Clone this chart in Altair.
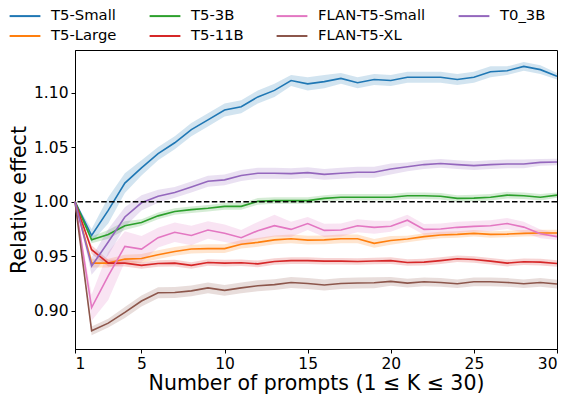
import altair as alt
import pandas as pd

K = list(range(1, 31))

models = ["T5-Small", "T5-Large", "T5-3B", "T5-11B", "FLAN-T5-Small", "FLAN-T5-XL", "T0_3B"]
legend_order = ["T5-Small", "T5-3B", "FLAN-T5-Small", "T0_3B", "T5-Large", "T5-11B", "FLAN-T5-XL"]
colors = {"T5-Small": "#1f77b4", "T5-Large": "#ff7f0e", "T5-3B": "#2ca02c", "T5-11B": "#d62728",
          "FLAN-T5-Small": "#e377c2", "FLAN-T5-XL": "#8c564b", "T0_3B": "#9467bd"}

t5_small = [1.000, 0.969, 0.992, 1.017, 1.031, 1.044, 1.054, 1.066, 1.075, 1.084, 1.087, 1.096, 1.102, 1.111, 1.108,
            1.110, 1.113, 1.109, 1.112, 1.111, 1.114, 1.114, 1.114, 1.112, 1.114, 1.119, 1.120, 1.124, 1.121, 1.115]
t5_large = [1.000, 0.9437, 0.9437, 0.9474, 0.948, 0.9514, 0.9544, 0.9566, 0.957, 0.957, 0.961, 0.9627, 0.965, 0.966, 0.9648,
            0.965, 0.966, 0.966, 0.9618, 0.9645, 0.9658, 0.968, 0.9694, 0.970, 0.971, 0.970, 0.9703, 0.971, 0.9713, 0.9713]
t5_3b = [1.000, 0.965, 0.970, 0.978, 0.981, 0.987, 0.991, 0.9927, 0.994, 0.9957, 0.9957, 1.0003, 1.001, 1.001, 1.001,
         1.003, 1.004, 1.004, 1.004, 1.004, 1.0055, 1.0055, 1.005, 1.003, 1.0033, 1.004, 1.006, 1.0055, 1.004, 1.006]
t5_11b = [1.000, 0.956, 0.9437, 0.9437, 0.9416, 0.9434, 0.9437, 0.9416, 0.9443, 0.9437, 0.944, 0.943, 0.9452, 0.946, 0.946,
          0.9455, 0.9455, 0.9452, 0.9457, 0.946, 0.9443, 0.9446, 0.946, 0.9477, 0.947, 0.9455, 0.9437, 0.945, 0.9446, 0.9434]
flan_small = [1.000, 0.903, 0.932, 0.959, 0.9566, 0.967, 0.972, 0.969, 0.974, 0.971, 0.967, 0.9734, 0.978, 0.9746, 0.980,
              0.9737, 0.974, 0.978, 0.9765, 0.9775, 0.983, 0.9746, 0.975, 0.9765, 0.9774, 0.978, 0.980, 0.9767, 0.9706, 0.968]
flan_xl = [1.000, 0.8817, 0.8887, 0.8985, 0.909, 0.9165, 0.9168, 0.9183, 0.921, 0.9187, 0.921, 0.923, 0.924, 0.926, 0.925,
           0.9236, 0.925, 0.9255, 0.9257, 0.927, 0.9254, 0.9266, 0.926, 0.9248, 0.9266, 0.9266, 0.926, 0.9248, 0.926, 0.9245]
t0_3b = [1.000, 0.941, 0.963, 0.986, 0.999, 1.005, 1.0085, 1.0135, 1.0187, 1.020, 1.024, 1.026, 1.026, 1.0257, 1.0266,
         1.025, 1.026, 1.027, 1.027, 1.030, 1.032, 1.034, 1.035, 1.034, 1.033, 1.034, 1.0346, 1.0346, 1.036, 1.0364]

# half-widths of the shaded bands
err_t5_small = [0, 0.006, 0.012, 0.009, 0.007, 0.006, 0.006, 0.006, 0.006, 0.006, 0.006, 0.006, 0.006, 0.005, 0.006,
                0.006, 0.005, 0.005, 0.005, 0.005, 0.005, 0.005, 0.005, 0.005, 0.005, 0.005, 0.004, 0.004, 0.004, 0.003]
err_t5_large = [0, 0.004, 0.004, 0.004, 0.004, 0.004, 0.004, 0.004, 0.004, 0.004, 0.004, 0.004, 0.004, 0.004, 0.004,
                0.004, 0.004, 0.004, 0.004, 0.004, 0.003, 0.003, 0.003, 0.003, 0.003, 0.003, 0.003, 0.003, 0.003, 0.003]
err_t5_3b = [0, 0.003, 0.004, 0.004, 0.003, 0.003, 0.003, 0.003, 0.003, 0.003, 0.003, 0.003, 0.003, 0.003, 0.003,
             0.003, 0.003, 0.003, 0.003, 0.003, 0.003, 0.003, 0.003, 0.003, 0.003, 0.003, 0.003, 0.003, 0.003, 0.0025]
err_t5_11b = [0, 0.004, 0.003, 0.003, 0.003, 0.003, 0.003, 0.003, 0.003, 0.003, 0.003, 0.003, 0.003, 0.003, 0.003,
              0.003, 0.003, 0.003, 0.003, 0.003, 0.003, 0.003, 0.003, 0.003, 0.003, 0.003, 0.003, 0.003, 0.003, 0.003]
err_flan_small = [0, 0.012, 0.022, 0.014, 0.012, 0.009, 0.009, 0.009, 0.008, 0.008, 0.007, 0.008, 0.010, 0.007, 0.006,
                  0.006, 0.006, 0.006, 0.006, 0.005, 0.005, 0.005, 0.005, 0.005, 0.005, 0.005, 0.005, 0.005, 0.004, 0.003]
err_flan_xl = [0, 0.004, 0.004, 0.005, 0.005, 0.005, 0.005, 0.005, 0.005, 0.005, 0.005, 0.005, 0.005, 0.005, 0.005,
               0.005, 0.005, 0.005, 0.005, 0.004, 0.004, 0.004, 0.004, 0.004, 0.004, 0.004, 0.004, 0.004, 0.004, 0.004]
err_t0_3b = [0, 0.008, 0.012, 0.009, 0.007, 0.006, 0.005, 0.005, 0.005, 0.005, 0.005, 0.005, 0.005, 0.005, 0.005,
             0.005, 0.005, 0.005, 0.005, 0.005, 0.004, 0.004, 0.004, 0.004, 0.004, 0.004, 0.004, 0.004, 0.003, 0.003]

series = {
    "T5-Small": (t5_small, err_t5_small),
    "T5-Large": (t5_large, err_t5_large),
    "T5-3B": (t5_3b, err_t5_3b),
    "T5-11B": (t5_11b, err_t5_11b),
    "FLAN-T5-Small": (flan_small, err_flan_small),
    "FLAN-T5-XL": (flan_xl, err_flan_xl),
    "T0_3B": (t0_3b, err_t0_3b),
}

rows = []
for m in models:
    vals, errs = series[m]
    for k, v, e in zip(K, vals, errs):
        rows.append({"K": k, "model": m, "value": v, "lo": v - e, "hi": v + e})
df = pd.DataFrame(rows)

x_ticks = [1, 5, 10, 15, 20, 25, 30]
y_ticks = [0.90, 0.95, 1.00, 1.05, 1.10]

color_scale = alt.Scale(domain=legend_order, range=[colors[m] for m in legend_order])
yscale = alt.Scale(domain=[0.865, 1.139], nice=False, zero=False)

legend = alt.Legend(title=None, orient="none", legendX=-58, legendY=-42,
                    direction="horizontal", columns=4,
                    symbolType="M-2.2,0H2.2", symbolSize=196,
                    symbolStrokeWidth=2, symbolOpacity=1, labelFontSize=14.8, labelOffset=18,
                    columnPadding=28, rowPadding=5, labelColor="black")

xenc = alt.X("K:Q", scale=alt.Scale(domain=[1, 30], nice=False, zero=False),
             axis=alt.Axis(values=x_ticks, title="Number of prompts (1 ≤ K ≤ 30)", format="d",
                           titlePadding=2))
cenc = alt.Color("model:N", scale=color_scale, legend=legend)

base = alt.Chart(df)

bands = base.mark_area(opacity=0.2).encode(
    x=xenc,
    y=alt.Y("lo:Q", scale=yscale),
    y2="hi:Q",
    color=cenc,
)

lines = base.mark_line(strokeWidth=1.6).encode(
    x=xenc,
    y=alt.Y("value:Q", scale=yscale,
            axis=alt.Axis(values=y_ticks, format=".2f", title="Relative effect", titlePadding=4)),
    color=cenc,
)

ref = alt.Chart(pd.DataFrame({"y": [1.0]})).mark_rule(
    color="black", strokeDash=[5.5, 2.4], strokeWidth=1.5
).encode(y="y:Q")

chart = alt.layer(bands, lines, ref).properties(
    width=482, height=299,
    autosize=alt.AutoSizeParams(type="none"),
    padding={"left": 67, "top": 42, "right": 3, "bottom": 46},
).configure(font="DejaVu Sans").configure_view(
    stroke="black", strokeWidth=1
).configure_axis(
    grid=False, domainColor="black", tickColor="black", labelColor="black", titleColor="black",
    tickSize=4, labelFontSize=15.5, titleFontSize=20.5, titleFontWeight="normal",
    labelPadding=3
)

chart.save("out.html", embed_options={"renderer": "svg", "actions": False})
